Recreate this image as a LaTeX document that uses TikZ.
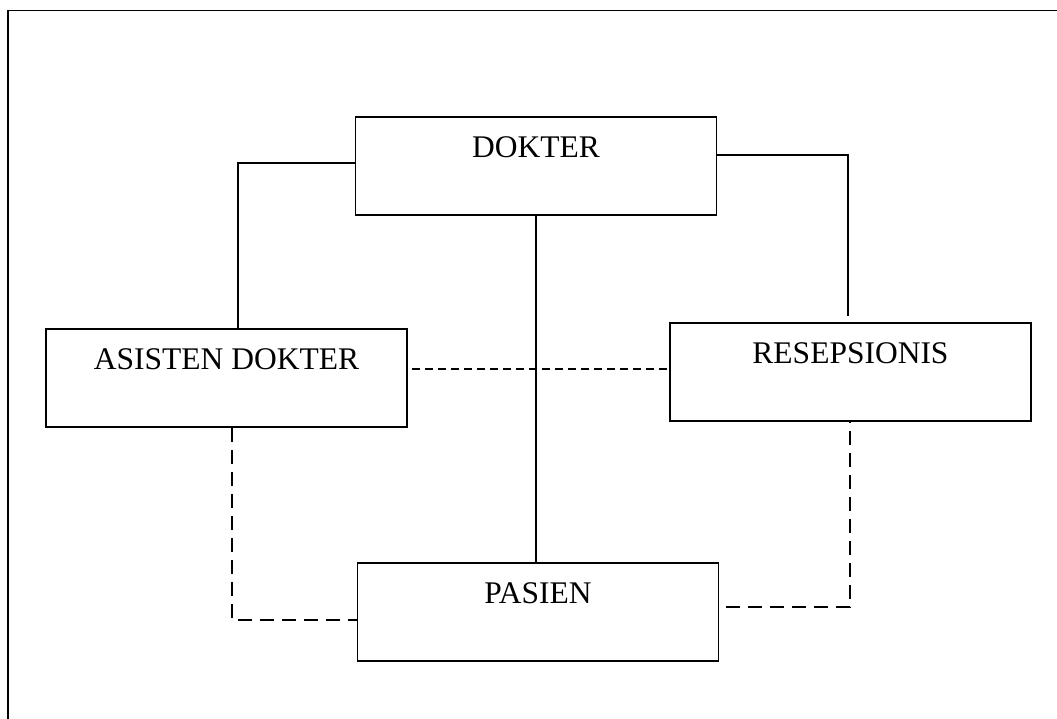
\documentclass[tikz,border=0pt]{standalone}
\usepackage{fontspec}
\setmainfont{Liberation Serif}
\begin{document}
\begin{tikzpicture}[x=1pt,y=-1pt,
  unit/.style={draw, line width=1.6pt, inner sep=0pt, text height=40.5pt, text depth=57.5pt,
    minimum width=361pt, font=\fontsize{31.5}{36}\selectfont},
  link/.style={line width=1.2pt},
  dlink/.style={line width=1.2pt, dash pattern=on 8pt off 5pt},
  dlong/.style={line width=1.3pt, dash pattern=on 14pt off 8pt}]
\useasboundingbox (0,0) rectangle (1057,719);
\draw[line width=1.6pt] (1057,10.5) -- (8,10.5) -- (8,719);
\node[unit] (dok) at (536,166) {DOKTER};
\node[unit] (asis) at (226.5,378) {ASISTEN DOKTER};
\node[unit] (res) at (850.5,372) {RESEPSIONIS};
\node[unit] (pas) at (538,612) {PASIEN};
\draw[link] ([yshift=3pt]dok.west) -| ([xshift=11.5pt]asis.north);
\draw[link] ([yshift=11pt]dok.east) -| ([xshift=-2.5pt,yshift=6pt]res.north);
\draw[link] (dok.south) -- (dok.south |- pas.north);
\draw[dlink] ([xshift=4pt,yshift=9pt]asis.east) -- ([yshift=3pt]res.west);
\draw[dlong] ([xshift=5.5pt]asis.south) |- ([yshift=-8pt]pas.west);
\draw[dlong] ([xshift=7pt,yshift=5pt]pas.east) -| ([xshift=-0.5pt]res.south);
\end{tikzpicture}
\end{document}
